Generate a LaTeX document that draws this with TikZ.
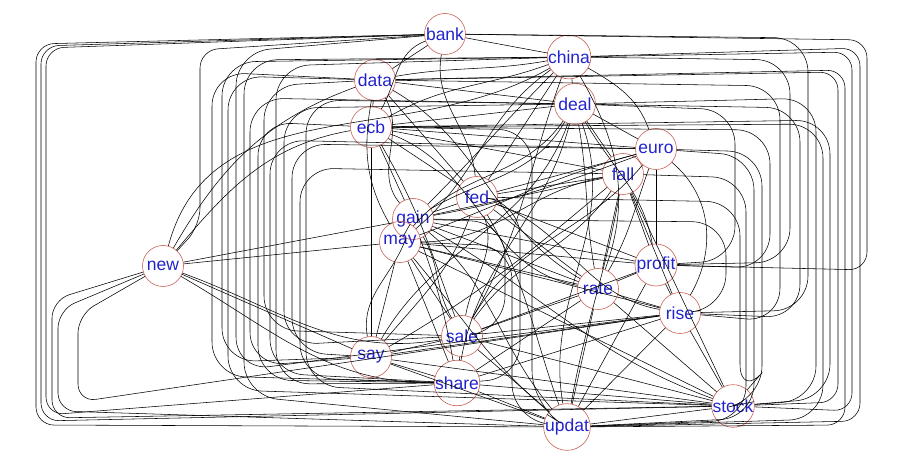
\documentclass[tikz,border=0pt]{standalone}
\usepackage{fontspec}
\setmainfont{Liberation Sans}
\definecolor{nodeline}{RGB}{200,95,85}
\definecolor{nodetext}{RGB}{35,35,205}
\tikzset{
  word/.style={circle, draw=nodeline, line width=0.6pt, minimum size=41pt, inner sep=0pt,
    text=nodetext, font=\fontsize{17.5}{17.5}\selectfont},
  edge/.style={draw=black, line width=0.55pt},
  routed/.style={edge, rounded corners=18pt},
  softrouted/.style={edge, rounded corners=34pt},
}
\newcommand\via[5]{\draw[routed] (#1) -- (#3,#4) -- (#3,#5) -- (#2);}
\newcommand\softvia[5]{\draw[softrouted] (#1) -- (#3,#4) -- (#3,#5) -- (#2);}
\begin{document}
\begin{tikzpicture}[x=1pt,y=-1pt]
\useasboundingbox (0,0) rectangle (900,462);
% nodes
\node[word] (bank)   at (445,34)  {bank};
\node[word] (china)  at (569,57)  {china};
\node[word] (data)   at (375,80)  {data};
\node[word] (deal)   at (575,104) {deal};
\node[word] (ecb)    at (371,127) {ecb};
\node[word] (euro)   at (656,149) {euro};
\node[word] (fall)   at (623,174) {fall};
\node[word] (fed)    at (477,197) {fed};
\node[word] (gain)   at (413,219) {gain};
\node[word] (may)    at (400,242) {may};
\node[word] (new)    at (163,266) {new};
\node[word] (profit) at (656,265) {profit};
\node[word] (rate)   at (598,289) {rate};
\node[word] (rise)   at (680,313) {rise};
\node[word] (sale)   at (462,336) {sale};
\node[word] (say)    at (371,357) {say};
\node[word] (share)  at (457,383) {share};
\node[word] (stock)  at (733,406) {stock};
\node[word] (updat)  at (567,427) {updat};
% straight edges
\foreach \a/\b in {bank/data, bank/china, china/deal, data/ecb, data/deal, data/fed,
  ecb/deal, ecb/euro, ecb/fall, ecb/fed, ecb/gain, deal/fall, deal/euro, euro/fall,
  fed/gain, fed/fall, fed/rate, fed/profit, gain/may, gain/fall, gain/profit, may/rate,
  may/rise, may/sale, may/say, may/share, new/may, new/gain, new/say, fall/profit,
  fall/rate, fall/rise, fall/stock, euro/profit, profit/rate, profit/rise,
  profit/updat, rate/rise, rate/stock, rate/updat, rate/sale, rate/share, rise/stock,
  rise/sale, rise/share, rise/updat, sale/share, sale/say, sale/updat, sale/stock,
  say/share, say/updat, say/stock, share/updat, share/stock, updat/stock, sale/profit,
  gain/rate, may/stock, ecb/say, china/fed, euro/fed, may/profit, say/rise}
  \draw[edge] (\a) -- (\b);
% curved edges
\foreach \a/\b/\o/\i in {bank/fed/260/95, bank/ecb/200/60, china/gain/225/45,
  china/may/215/40, china/rate/300/70, deal/gain/240/30, deal/may/235/50,
  deal/say/250/60, deal/share/255/80, deal/updat/290/100, euro/gain/200/10,
  euro/may/195/20, euro/sale/230/60, fall/sale/235/55, fall/say/220/30,
  fall/updat/260/80, fall/may/190/0, fed/sale/290/80, fed/say/250/50,
  fed/updat/300/110, gain/sale/300/120, gain/share/290/100, gain/say/250/100,
  gain/stock/330/160, gain/updat/320/130, china/sale/250/60, china/ecb/200/30,
  data/gain/300/130, data/rate/330/150, ecb/rate/340/170, ecb/sale/300/110,
  data/china/10/190, new/data/60/200, new/ecb/50/190, new/china/75/210,
  new/share/330/180, new/sale/340/190, china/euro/330/110, deal/profit/300/100,
  euro/rate/250/60, fed/rise/340/170, may/updat/310/140, deal/rate/280/100,
  euro/rise/320/60, data/may/260/120}
  \draw[edge] (\a) to[out=\o, in=\i] (\b);
% routed edges, outer left
\via{bank}{updat}{36}{44}{425}
\via{bank}{stock}{41}{46}{421}
\via{bank}{share}{46}{48}{415}
\via{new}{stock}{52}{300}{418}
\via{new}{updat}{58}{310}{411}
\via{new}{rise}{78}{315}{402}
\via{bank}{new}{200}{50}{226}
% routed edges, middle left
\softvia{data}{share}{212}{72}{376}
\softvia{china}{say}{222}{62}{362}
\softvia{data}{stock}{228}{76}{390}
\softvia{bank}{rise}{236}{52}{371}
\softvia{china}{updat}{244}{60}{396}
\softvia{deal}{say}{250}{98}{366}
\softvia{ecb}{share}{258}{122}{380}
\softvia{data}{sale}{264}{86}{330}
\softvia{euro}{share}{270}{140}{373}
\softvia{china}{share}{276}{66}{384}
\softvia{deal}{sale}{284}{108}{345}
\softvia{euro}{say}{292}{144}{352}
\softvia{fall}{share}{300}{168}{378}
\softvia{deal}{stock}{306}{100}{386}
% routed edges, outer right
\via{bank}{profit}{867}{40}{270}
\via{china}{updat}{860}{48}{421}
\via{china}{stock}{852}{52}{411}
\via{data}{updat}{845}{70}{425}
\via{data}{stock}{838}{72}{402}
\softvia{ecb}{stock}{830}{120}{398}
\softvia{ecb}{updat}{823}{124}{419}
\softvia{deal}{stock}{816}{98}{400}
\softvia{bank}{rise}{808}{38}{310}
\softvia{deal}{rise}{800}{108}{318}
\softvia{china}{profit}{790}{60}{262}
\softvia{data}{rise}{780}{86}{322}
\softvia{ecb}{profit}{770}{130}{268}
\softvia{euro}{stock}{762}{152}{400}
\softvia{euro}{updat}{754}{156}{418}
\softvia{fall}{updat}{746}{178}{420}
\softvia{fed}{stock}{740}{202}{398}
\softvia{deal}{profit}{735}{110}{260}
\softvia{gain}{rise}{726}{222}{308}
% routed edges, centre
\softvia{gain}{sale}{505}{222}{330}
\softvia{fed}{share}{520}{202}{378}
\softvia{may}{updat}{512}{246}{418}
\softvia{ecb}{updat}{532}{130}{405}
\end{tikzpicture}
\end{document}
